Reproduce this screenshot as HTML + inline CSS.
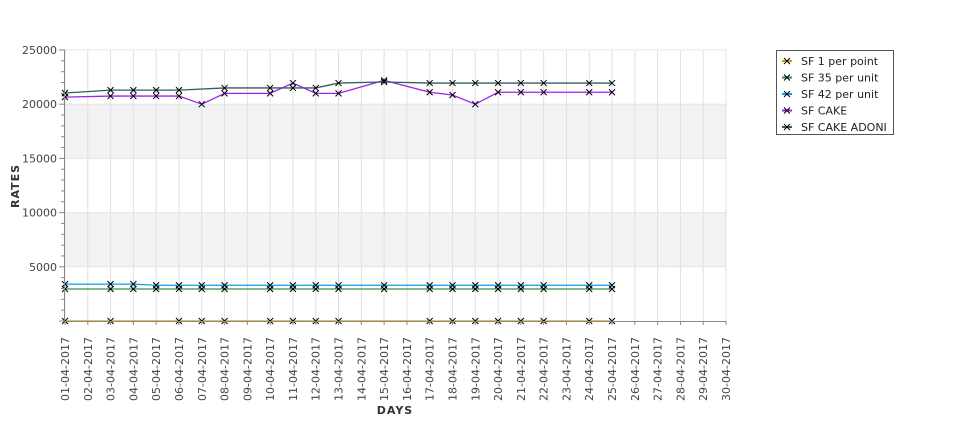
<!DOCTYPE html>
<html><head><meta charset="utf-8"><style>
body{margin:0;background:#fff;}
svg text{font-family:"DejaVu Sans","Liberation Sans",sans-serif;}
</style></head><body>
<svg id="chart" width="975" height="429" viewBox="0 0 975 429" xmlns="http://www.w3.org/2000/svg">
<g id="bands"></g>
<g id="grid"></g>
<g id="series"></g>
<g id="axes"></g>
<text x="0" y="0" transform="translate(19,186) rotate(-90)" text-anchor="middle" font-size="11" font-weight="bold" fill="#333" letter-spacing="1">RATES</text>
<text x="395" y="414" text-anchor="middle" font-size="11" font-weight="bold" fill="#333" letter-spacing="1">DAYS</text>
<g>
<rect x="776.5" y="50.5" width="117" height="84" fill="#fff" stroke="#555"/>
<g id="legend-items"></g>
</g>
</svg>
<script>
const categories = [];
for (let d = 1; d <= 30; d++) categories.push((d<10?'0':'')+d+'-04-2017');
const yTicks = [5000,10000,15000,20000,25000];
const seriesNames = ["SF 1 per point","SF 35 per unit","SF 42 per unit","SF CAKE","SF CAKE ADONI"];
const seriesColors = ["#c8a000","#3c8c50","#00a0f0","#a020f0","#2f5f5f"];
const daysMain = [1,3,4,5,6,7,8,10,11,12,13,15,17,18,19,20,21,22,24,25];
const daysGold = [1,3,6,7,8,10,11,12,13,17,18,19,20,21,22,24,25];
const valGold = [0,0,0,0,0,0,0,0,0,0,0,0,0,0,0,0,0];
const val35 = [2950,2950,2950,2950,2950,2950,2950,2950,2950,2950,2950,2950,2950,2950,2950,2950,2950,2950,2950,2950];
const val42 = [3400,3400,3400,3300,3300,3300,3300,3300,3300,3300,3300,3300,3300,3300,3300,3300,3300,3300,3300,3300];
const valCake = [20650,20750,20750,20750,20750,20000,21000,21000,21950,21000,21000,22200,21100,20850,20000,21100,21100,21100,21100,21100];
const daysAdoni = [1,3,4,5,6,8,10,11,12,13,15,17,18,19,20,21,22,24,25];
const valAdoni = [21030,21300,21300,21300,21300,21500,21500,21500,21500,21950,22050,21950,21950,21950,21950,21950,21950,21950,21950];

const X0=65, X1=726, Y0=321, Y1=50, YMAX=25000;
const xs = d => X0 + (d-1)*(X1-X0)/29;
const ys = v => Y0 - v*(Y0-Y1)/YMAX;
const NS="http://www.w3.org/2000/svg";
function mk(tag, attrs, parent){const e=document.createElementNS(NS,tag);for(const k in attrs)e.setAttribute(k,attrs[k]);parent.appendChild(e);return e;}
const bands=document.getElementById('bands'), grid=document.getElementById('grid'), ser=document.getElementById('series'), axes=document.getElementById('axes');
mk('rect',{x:X0,y:Y1,width:X1-X0,height:Y0-Y1,fill:'#fff'},bands);
[[5000,10000],[15000,20000]].forEach(b=>{
  const r=mk('rect',{x:X0,y:ys(b[1]),width:X1-X0,height:ys(b[0])-ys(b[1]),fill:'#f2f2f2'},bands);
  
  
});
categories.forEach((c,i)=>{
  const x=xs(i+1);
  const l=mk('line',{x1:x,x2:x,y1:Y1,y2:Y0,stroke:'#e0e0e0','stroke-width':1},grid);
  
  
  mk('line',{x1:x,x2:x,y1:Y0,y2:Y0+4,stroke:'#888'},axes);
  const t=mk('text',{transform:`translate(${x+4},${337}) rotate(-90)`,'text-anchor':'end','font-size':'11',fill:'#444'},axes);
  t.textContent=c;
  
  
});
yTicks.forEach(v=>{
  const y=ys(v);
  const l=mk('line',{x1:X0,x2:X1,y1:y,y2:y,stroke:'#e6e6e6'},grid);
  
  
  const t=mk('text',{x:57,y:y+4,'text-anchor':'end','font-size':'11',fill:'#444'},axes);
  t.textContent=v;
  
  
});
for(let v=0;v<=YMAX;v+=1000){const y=ys(v);mk('line',{x1:v%5000?61:59,x2:X0,y1:y,y2:y,stroke:'#888'},axes);}
mk('line',{x1:X0-0.5,x2:X0-0.5,y1:Y1,y2:Y0,stroke:'#888'},axes);
mk('line',{x1:X0,x2:X1,y1:Y0+0.5,y2:Y0+0.5,stroke:'#888'},axes);

function drawSeries(days, vals, color, name){
  const g=mk('g',{},ser);
  
  
  const pts=days.map((d,i)=>xs(d)+','+ys(vals[i])).join(' ');
  mk('polyline',{points:pts,fill:'none',stroke:color,'stroke-width':1.3},g);
  days.forEach((d,i)=>{
    const x=xs(d),y=ys(vals[i]);
    const p=mk('path',{d:`M${x-3},${y-3}L${x+3},${y+3}M${x-3},${y+3}L${x+3},${y-3}`,stroke:'#000','stroke-width':1},g);
    
    
  });
}
drawSeries(daysGold,valGold,seriesColors[0],seriesNames[0]);
drawSeries(daysMain,val35,seriesColors[1],seriesNames[1]);
drawSeries(daysMain,val42,seriesColors[2],seriesNames[2]);
drawSeries(daysMain,valCake,seriesColors[3],seriesNames[3]);
drawSeries(daysAdoni,valAdoni,seriesColors[4],seriesNames[4]);

const li=document.getElementById('legend-items');
seriesNames.forEach((n,i)=>{
  const y=61+i*16.5;
  const g=mk('g',{},li);
  
  
  mk('line',{x1:782,x2:792,y1:y,y2:y,stroke:seriesColors[i],'stroke-width':2},g);
  mk('path',{d:`M784,${y-3}L790,${y+3}M784,${y+3}L790,${y-3}`,stroke:'#000'},g);
  const t=mk('text',{x:801,y:y+4,'font-size':'11',fill:'#222'},g);
  t.textContent=n;
});
</script>
</body></html>
